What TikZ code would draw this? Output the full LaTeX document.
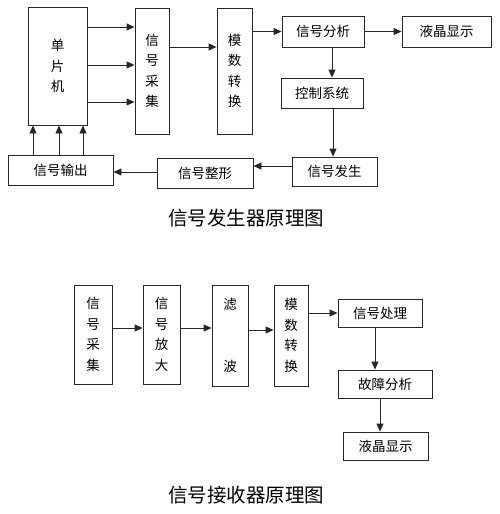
\documentclass[tikz,border=0pt]{standalone}
\usepackage{fontspec}
\newfontfamily\cjk{Noto Sans CJK SC}
\usetikzlibrary{arrows.meta}
\begin{document}
\begin{tikzpicture}[x=1pt,y=-1pt,
  blk/.style={draw=black!85,line width=0.9pt,inner sep=0pt,align=center,
    font=\cjk\fontsize{13.5}{20.5}\selectfont,text=black},
  arr/.style={draw=black!85,line width=0.9pt,-{Triangle[length=8pt,width=7pt]}},
  ttl/.style={font=\cjk\fontsize{19.5}{22}\selectfont,text=black,inner sep=0pt}]
\useasboundingbox (0,0) rectangle (499,514);
% top diagram
\node[blk,minimum width=59pt,minimum height=118pt] (mcu) at (57.5,66) {单\\片\\机};
\node[blk,minimum width=34pt,minimum height=126pt] (col) at (152,71) {信\\号\\采\\集};
\node[blk,minimum width=35pt,minimum height=126pt] (adc) at (234.5,71) {模\\数\\转\\换};
\node[blk,minimum width=82pt,minimum height=31pt] (ana) at (323,31.5) {信号分析};
\node[blk,minimum width=89pt,minimum height=31pt] (lcd) at (446.5,31.5) {液晶显示};
\node[blk,minimum width=82pt,minimum height=30pt] (ctl) at (322,93) {控制系统};
\node[blk,minimum width=85pt,minimum height=29pt] (gen) at (334.5,171.5) {信号发生};
\node[blk,minimum width=96pt,minimum height=30pt] (shp) at (205,173) {信号整形};
\node[blk,minimum width=105pt,minimum height=30pt] (out) at (60.5,170) {信号输出};
\foreach \yy in {27,65,102} \draw[arr] (mcu.east |- 0,\yy) -- (col.west |- 0,\yy);
\draw[arr] (col.east |- 0,47) -- (adc.west |- 0,47);
\draw[arr] (adc.east |- ana.west) -- (ana.west);
\draw[arr] (ana) -- (lcd);
\draw[arr] (ana.south -| 332,0) -- (ctl.north -| 332,0);
\draw[arr] (ctl.south -| 333,0) -- (gen.north -| 333,0);
\draw[arr] (gen.west |- 0,166) -- (shp.east |- 0,166);
\draw[arr] (shp.west |- 0,172) -- (out.east |- 0,172);
\foreach \xx in {33,59,83} \draw[arr] (out.north -| \xx,0) -- (mcu.south -| \xx,0);
\node[ttl] (t1) at (246,218) {信号发生器原理图};
% bottom diagram
\node[blk,minimum width=38pt,minimum height=99pt] (bcol) at (93,334.5) {信\\号\\采\\集};
\node[blk,minimum width=37pt,minimum height=99pt] (amp) at (161.5,334.5) {信\\号\\放\\大};
\node[blk,minimum width=36pt,minimum height=101pt] (flt) at (230,335.5) {滤\\[41pt]波};
\node[blk,minimum width=34pt,minimum height=101pt] (badc) at (291,335.5) {模\\数\\转\\换};
\node[blk,minimum width=84pt,minimum height=28pt] (proc) at (380,313) {信号处理};
\node[blk,minimum width=94pt,minimum height=28pt] (fault) at (385,384) {故障分析};
\node[blk,minimum width=85pt,minimum height=28pt] (blcd) at (385.5,446) {液晶显示};
\draw[arr] (bcol.east |- 0,328) -- (amp.west |- 0,328);
\draw[arr] (amp.east |- 0,328) -- (flt.west |- 0,328);
\draw[arr] (flt.east |- 0,330) -- (badc.west |- 0,330);
\draw[arr] (badc.east |- proc.west) -- (proc.west);
\draw[arr] (proc.south -| 375,0) -- (fault.north -| 375,0);
\draw[arr] (fault.south -| 380,0) -- (blcd.north -| 380,0);
\node[ttl] (t2) at (246,495) {信号接收器原理图};
\end{tikzpicture}
\end{document}
